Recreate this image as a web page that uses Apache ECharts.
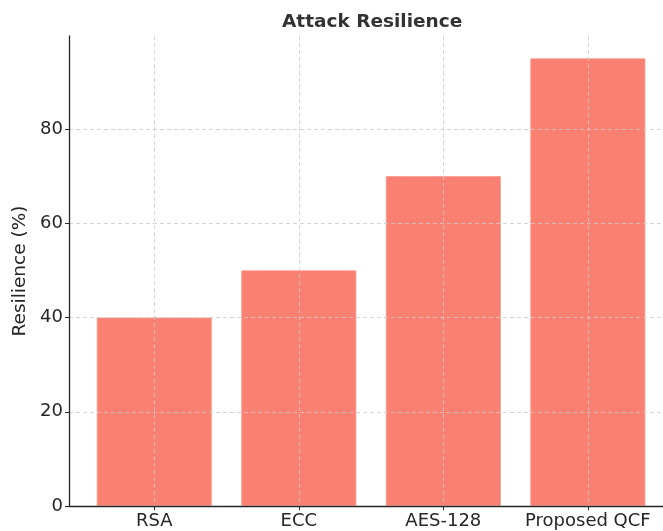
<!DOCTYPE html>
<html>
<head>
<meta charset="utf-8">
<script src="https://cdn.jsdelivr.net/npm/echarts@6/dist/echarts.min.js"></script>
<style>
  html, body { margin: 0; padding: 0; background: #fff; }
  #chart { width: 663px; height: 531px; }
</style>
</head>
<body>
<div id="chart"></div>
<script>
// data
var methods = ['RSA', 'ECC', 'AES-128', 'Proposed QCF'];
var resilience = [40, 50, 70, 95];
var yTicks = [0, 20, 40, 60, 80];

var dom = document.getElementById('chart');
var myChart = echarts.init(dom);

var font = 'DejaVu Sans';
var option = {
    animation: false,
    title: {
        text: 'Attack Resilience',
        left: 277,
        top: 8,
        textStyle: {
            fontFamily: font,
            fontSize: 18.5,
            fontWeight: 'bold',
            color: '#333'
        }
    },
    grid: {
        left: 69,
        right: 0,
        top: 36,
        bottom: 25
    },
    xAxis: {
        type: 'value',
        min: -0.59,
        max: 3.52,
        z: 3,
        axisLine: { show: true, onZero: false, lineStyle: { color: '#262626', width: 1.3 } },
        axisTick: {
            show: true,
            length: 4,
            customValues: [0, 1, 2, 3],
            lineStyle: { color: '#262626' }
        },
        axisLabel: {
            customValues: [0, 1, 2, 3],
            formatter: function (v) { return methods[Math.round(v)]; },
            fontFamily: font,
            fontSize: 18,
            color: '#262626',
            margin: 6
        },
        splitLine: {
            show: true,
            lineStyle: { color: '#cccccc', type: [4, 3], width: 0.8 }
        }
    },
    yAxis: {
        type: 'value',
        min: 0,
        max: 99.75,
        z: 3,
        name: 'Resilience (%)',
        nameLocation: 'middle',
        nameGap: 34,
        nameTextStyle: { fontFamily: font, fontSize: 18.5, color: '#262626' },
        axisLine: { show: true, onZero: false, lineStyle: { color: '#262626', width: 1.3 } },
        axisTick: {
            show: true,
            length: 4,
            customValues: yTicks,
            lineStyle: { color: '#262626' }
        },
        axisLabel: {
            customValues: yTicks,
            fontFamily: font,
            fontSize: 18,
            color: '#262626',
            margin: 6
        },
        splitLine: {
            show: true,
            lineStyle: { color: '#cccccc', type: [4, 3], width: 0.8 }
        }
    },
    series: [{
        type: 'bar',
        barWidth: 115,
        data: resilience.map(function (v, i) { return [i, v]; }),
        itemStyle: {
            color: '#FA8072',
            borderColor: '#fb9a8e',
            borderWidth: 0.8
        }
    }]
};
myChart.setOption(option);
</script>
</body>
</html>
